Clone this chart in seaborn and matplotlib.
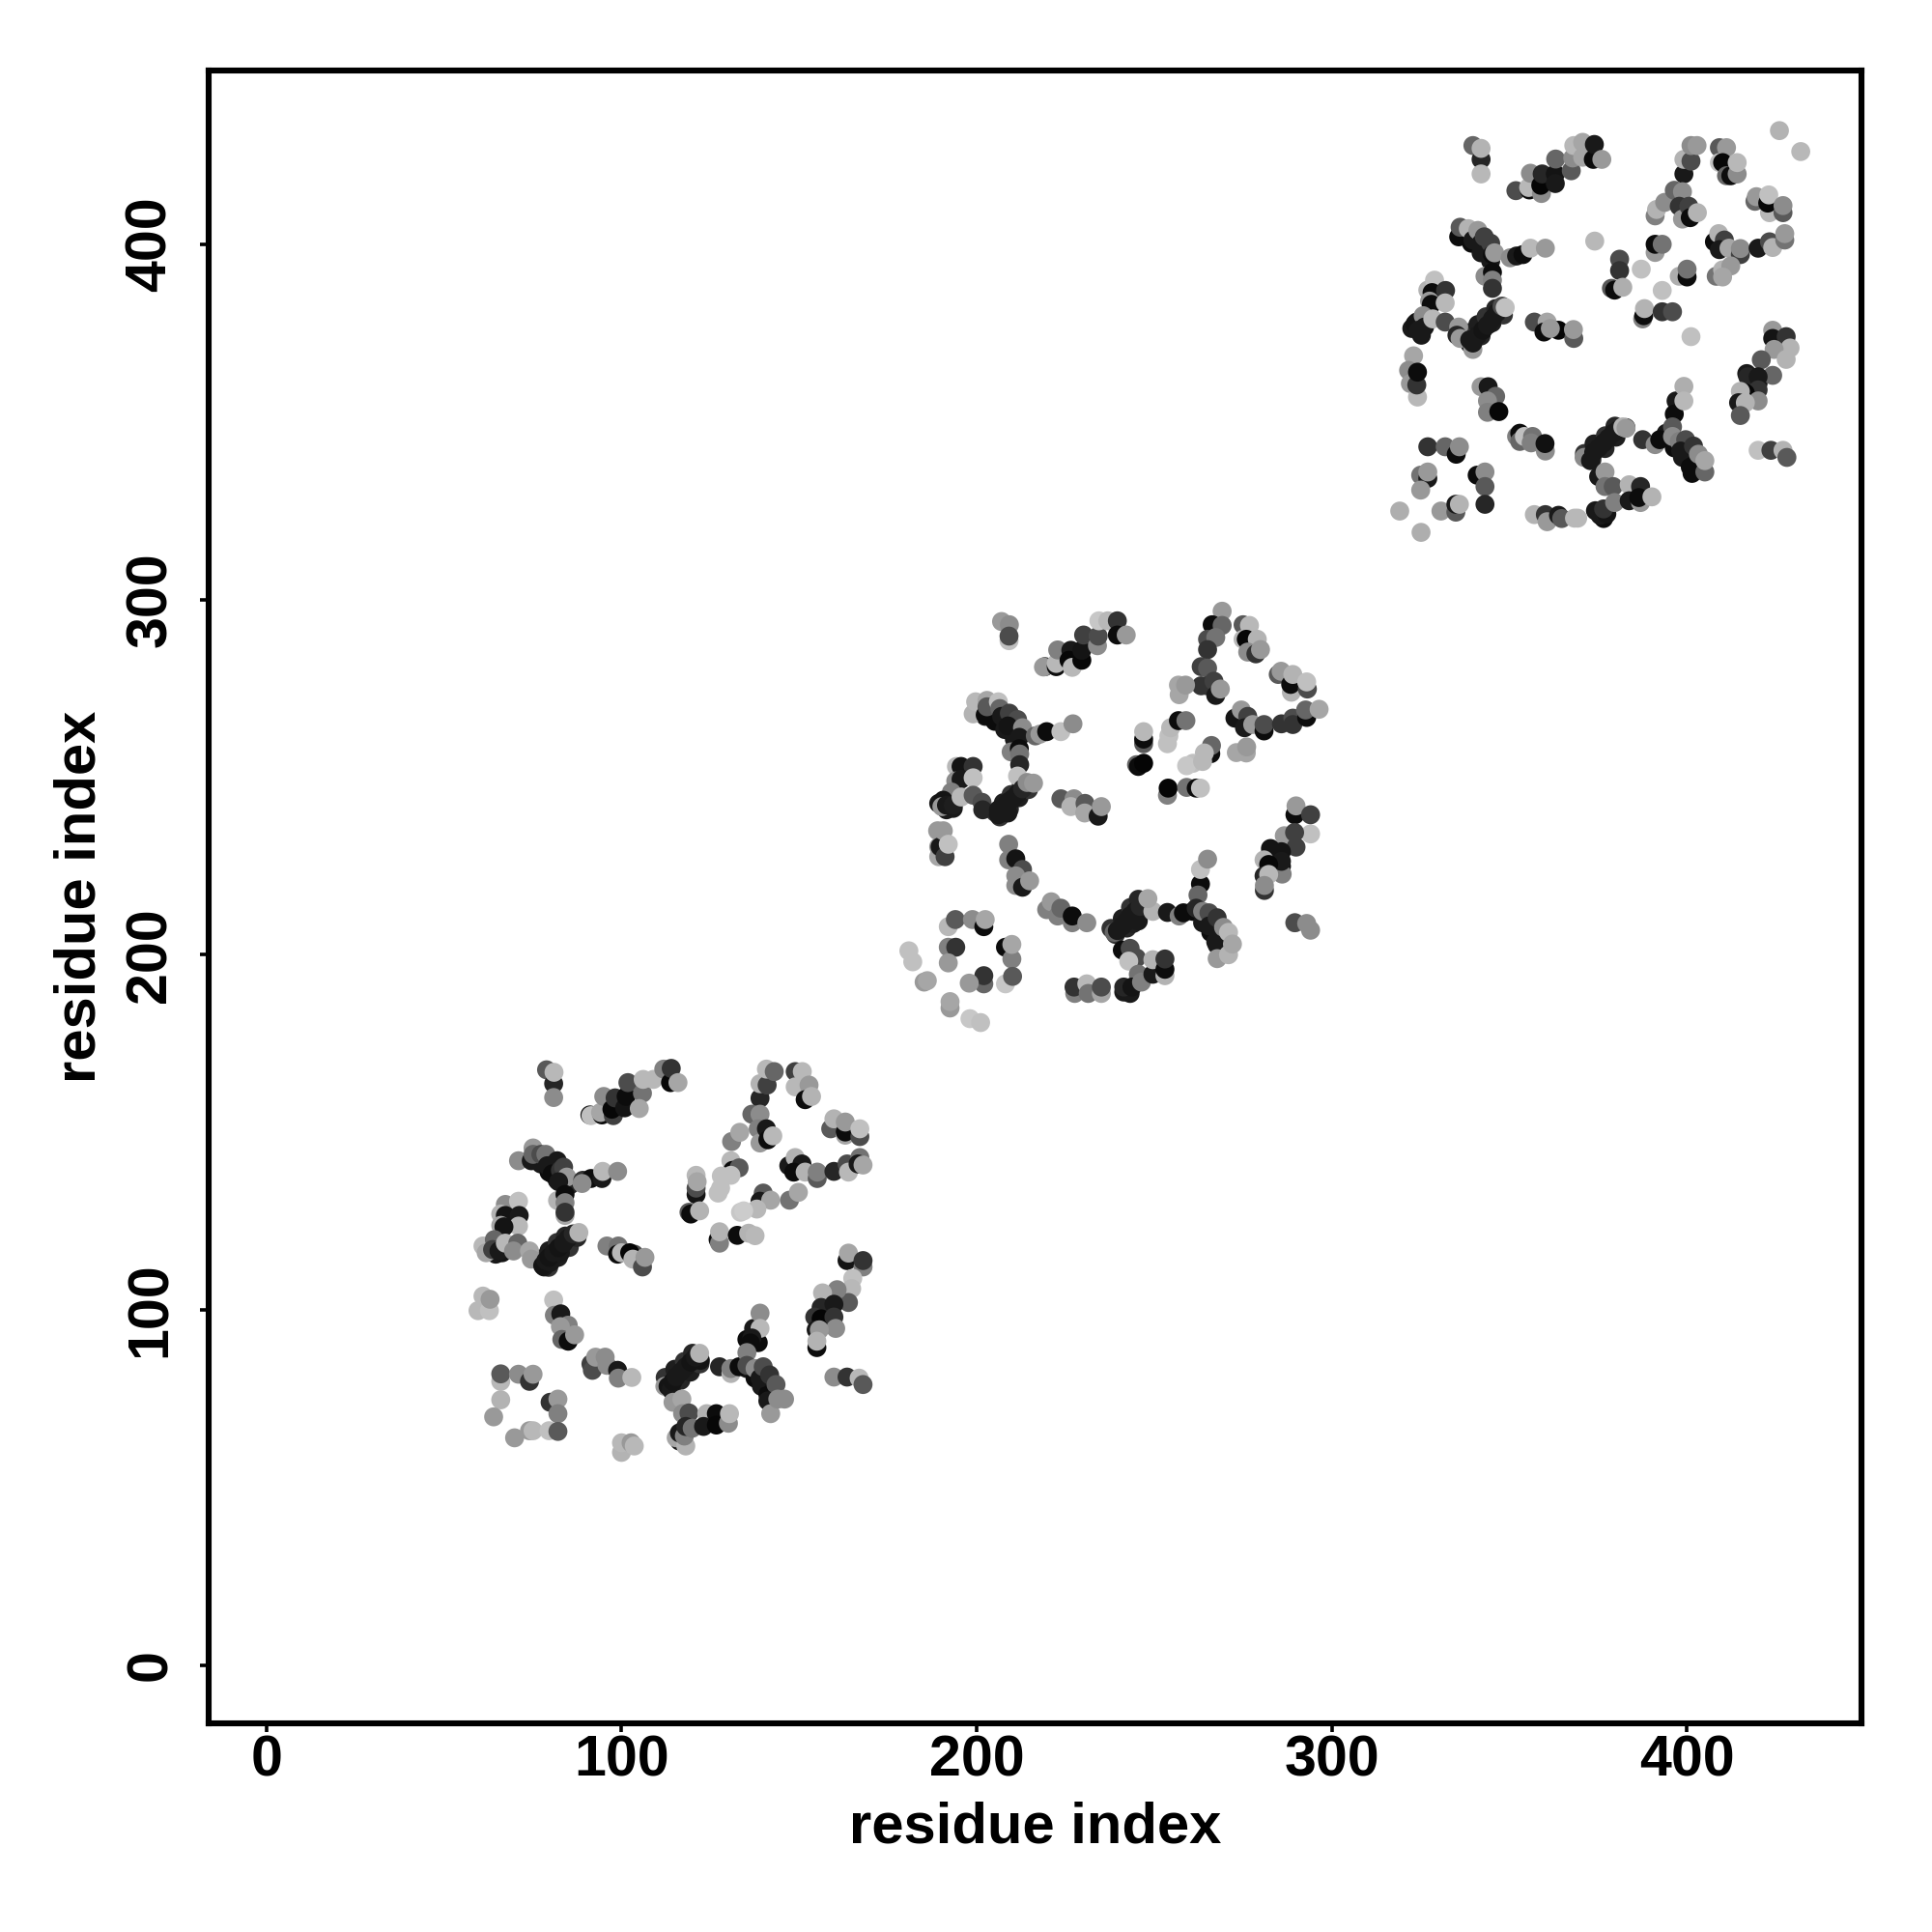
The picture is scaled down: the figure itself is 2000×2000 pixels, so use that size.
import pandas as pd
import matplotlib
matplotlib.use("Agg")
import matplotlib.pyplot as plt
import seaborn as sns

# ---- dense strands, lying beneath the rest ----
x0 = [77.4, 79.6, 81.9, 84.2, 79.5, 82.2, 85.3, 87.5,
      112.3, 115.0, 117.7, 120.0, 114.0, 116.7, 119.4, 122.1,
      77.3, 79.6, 81.9, 85.5, 135.3, 137.6, 139.4, 141.2, 135.3, 138.5,
      63.3, 64.6, 66.4, 157.1, 116.3,
      205.2, 207.5, 209.7, 212.5, 206.5, 209.2, 211.9, 214.6,
      237.8, 241.0, 243.3, 245.5, 239.1, 242.3, 244.1, 246.4,
      202.4, 205.1, 207.9, 210.6, 260.9, 263.6, 265.9, 267.3,
      189.3, 191.5, 193.4, 282.7, 285.8, 241.4, 243.2,
      338.4, 341.1, 343.4, 346.1, 338.8, 342.0, 345.1, 348.3,
      371.1, 373.8, 377.0, 379.7, 373.2, 376.9, 380.0, 382.8,
      336.6, 339.3, 342.0, 344.7, 394.1, 396.4, 398.7, 400.9,
      322.5, 325.2, 323.9, 416.8, 420.0, 374.2, 376.5]
y0 = [114.4, 116.7, 119.0, 120.8, 112.0, 114.8, 117.6, 120.4,
      81.0, 83.3, 85.5, 87.8, 77.5, 80.2, 82.5, 84.8,
      141.1, 138.8, 136.5, 135.2, 83.5, 80.8, 78.5, 76.2, 91.7, 90.8,
      117.0, 115.7, 116.1, 99.8, 63.1,
      240.1, 242.8, 245.1, 247.3, 238.8, 241.0, 244.2, 246.5,
      207.4, 210.2, 213.3, 215.6, 205.7, 207.5, 208.8, 212.5,
      267.1, 265.7, 263.4, 260.7, 212.2, 209.0, 206.3, 203.6,
      242.6, 240.8, 241.2, 228.5, 224.9, 189.5, 189.1,
      375.1, 377.4, 379.6, 381.9, 372.0, 374.2, 377.9, 380.1,
      341.1, 343.8, 346.1, 348.8, 339.3, 342.5, 345.7, 348.4,
      402.6, 400.3, 397.6, 395.3, 346.8, 342.7, 340.0, 337.3,
      376.3, 374.4, 378.1, 363.6, 360.9, 325.0, 322.8]
shade0 = [.2, .12, .2, .15, .2, .12, .2, .15,
          .2, .12, .2, .15, .2, .15, .12, .2,
          .1, .05, .1, .15, .1, .05, .1, .05, .05, .05,
          .1, .1, .08, .1, .1,
          .2, .12, .2, .15, .2, .15, .12, .2,
          .2, .12, .2, .15, .2, .15, .12, .2,
          .1, .05, .1, .1, .05, .1, .05, .1,
          .1, .1, .1, .05, .05, .1, .1,
          .2, .12, .2, .15, .2, .15, .12, .2,
          .2, .12, .2, .15, .2, .15, .12, .2,
          .1, .05, .1, .1, .1, .05, .1, .05,
          .1, .1, .05, .1, .1, .1, .05]

# ---- first domain ----
x1 = [78.9, 80.9, 80.9, 81.0,
      91.1, 91.4, 94.5, 94.1, 95.0, 97.7, 97.3, 98.2, 100.9, 101.3, 101.8, 105.9, 105.0, 106.1, 109.0, 111.9, 113.8, 114.0, 115.9,
      71.0, 74.6, 75.1, 75.1, 77.3, 78.7, 79.1, 81.9, 80.5, 82.8, 83.7, 84.6, 82.3, 89.1, 91.4, 94.5, 88.9, 94.7, 98.9,
      82.0, 84.1, 84.1, 84.1, 84.1,
      67.3, 66.0, 67.3, 71.0, 71.2, 71.0, 66.0, 66.9, 61.0, 61.9, 64.2, 63.7, 65.5, 67.3, 70.8, 69.6, 74.1, 74.6,
      78.2, 77.8, 80.0, 78.7, 79.6, 80.9, 82.8, 82.3, 83.7, 85.0, 86.4, 88.0,
      95.9, 99.1, 98.9, 100.0, 103.6, 102.3, 103.2, 105.9, 106.6,
      61.0, 59.6, 62.8, 63.0,
      80.9, 81.1, 82.9, 85.0, 82.8, 83.2, 85.0, 86.8,
      91.4, 91.8, 92.7, 95.4, 95.9, 98.9, 99.1, 102.9,
      66.0, 66.0, 71.0, 74.1, 75.1, 66.0, 64.0, 79.9, 82.1, 82.1, 69.9, 74.1, 75.1, 79.6, 82.1,
      100.0, 100.0, 102.7, 103.6,
      112.2, 113.1, 114.0, 114.5, 115.4, 116.8, 118.1, 119.5, 122.2, 120.8, 122.0,
      114.5, 117.0, 117.2, 119.0, 115.4, 118.1, 116.3, 117.7, 118.1, 119.9, 124.0, 123.1, 126.7, 126.7, 130.1, 130.4,
      127.6, 130.8, 130.8, 133.1, 137.2, 139.0, 139.0, 136.7, 136.3, 135.3, 135.3, 137.6, 139.0, 139.9, 141.7, 143.5, 141.2, 142.0, 144.0, 145.9,
      163.5, 163.9, 168.0, 168.0, 165.1, 164.8, 163.9, 160.7, 156.6, 156.2, 159.8, 154.4, 156.2, 159.8, 160.3, 154.8, 155.7, 155.0, 155.0,
      159.8, 163.5, 166.9, 168.0,
      139.0, 139.0, 141.0, 140.8, 143.0, 148.9, 150.9, 148.9, 152.8, 151.7, 153.5,
      136.7, 139.0, 131.0, 133.3, 138.5, 139.0, 140.8, 141.2, 142.6,
      158.9, 159.8, 163.0, 163.0, 163.0, 167.1, 167.1,
      147.1, 148.9, 150.8, 148.5, 151.7, 155.1, 155.1, 159.8, 163.5, 163.9, 167.1, 166.6, 168.0,
      130.8, 131.3, 133.1, 128.1, 130.8, 127.2, 127.9,
      139.9, 139.0, 142.0, 138.1, 133.5, 134.4,
      147.3, 149.8,
      121.0, 121.0, 121.0, 121.3, 119.0, 119.5, 122.0,
      127.2, 127.6, 127.6, 132.6, 135.8, 137.6]
y1 = [167.6, 163.7, 159.8, 166.9,
      154.9, 154.7, 154.9, 155.6, 160.1, 154.7, 156.5, 159.7, 156.9, 160.1, 164.0, 161.0, 156.7, 164.9, 164.9, 167.8, 164.0, 168.0, 164.0,
      142.0, 142.0, 145.6, 143.8, 143.8, 143.8, 140.6, 142.0, 138.3, 139.3, 140.2, 137.4, 136.1, 136.5, 137.0, 137.0, 135.6, 139.0, 139.0,
      130.8, 132.5, 130.2, 126.6, 127.5,
      129.7, 127.0, 126.6, 130.6, 126.6, 123.6, 123.8, 123.4, 118.0, 116.1, 119.8, 117.0, 116.6, 118.8, 118.8, 116.6, 116.6, 114.3,
      112.1, 112.5, 113.4, 113.9, 114.8, 116.1, 116.1, 117.5, 118.8, 120.2, 121.4, 121.8,
      118.0, 118.0, 115.7, 116.1, 115.7, 116.1, 114.3, 112.1, 114.8,
      103.9, 99.8, 99.8, 103.0,
      102.8, 98.5, 98.9, 95.7, 95.3, 91.7, 91.2, 93.0,
      84.8, 83.0, 86.7, 86.7, 84.4, 83.0, 80.8, 81.0,
      79.9, 82.0, 81.9, 79.9, 81.9, 74.7, 69.9, 74.0, 74.9, 70.8, 64.0, 66.0, 66.0, 66.0, 65.8,
      59.9, 62.6, 62.6, 61.7,
      78.5, 78.5, 77.6, 79.9, 81.2, 82.6, 84.0, 85.3, 85.8, 86.7, 87.8,
      74.0, 74.9, 70.8, 71.0, 64.0, 61.7, 65.4, 64.5, 67.2, 66.7, 70.8, 67.2, 70.8, 67.6, 68.1, 70.8,
      84.0, 82.1, 83.5, 84.0, 94.8, 99.1, 94.8, 92.1, 90.7, 88.0, 84.4, 83.5, 80.8, 84.0, 81.7, 79.0, 74.4, 70.8, 74.9, 74.9,
      113.9, 116.0, 112.1, 113.9, 108.9, 106.0, 102.1, 105.7, 104.8, 100.7, 101.6, 98.0, 97.5, 98.0, 94.8, 94.4, 94.4, 89.4, 91.2,
      81.1, 81.1, 80.8, 79.0,
      159.6, 163.7, 163.3, 167.8, 167.1, 167.1, 167.1, 162.8, 163.3, 159.2, 160.1,
      155.1, 155.1, 147.4, 150.0, 151.0, 147.0, 151.0, 147.9, 149.0,
      151.0, 153.8, 149.2, 150.1, 152.9, 148.8, 151.0,
      140.6, 142.9, 141.1, 138.8, 138.8, 137.0, 138.8, 139.0, 141.1, 138.8, 142.9, 141.1, 140.8,
      142.0, 139.3, 140.0, 137.7, 137.9, 132.9, 134.3,
      132.9, 130.6, 130.9, 128.4, 127.5, 127.9,
      130.9, 133.1,
      132.5, 134.3, 137.9, 136.1, 127.5, 127.0, 127.9,
      119.8, 118.8, 122.0, 121.0, 121.6, 120.9]
shade1 = [.35, .15, .55, .72,
          .1, .75, .05, .65, .55, .25, .03, .2, .08, .05, .3, .45, .65, .72, .72, .5, .03, .2, .65,
          .55, .1, .6, .4, .3, .45, .1, .1, .05, .2, .25, .6, .1, .2, .05, .1, .55, .72, .55,
          .7, .05, .5, .65, .2,
          .55, .7, .08, .75, .1, .72, .65, .08, .72, .65, .4, .25, .1, .72, .4, .55, .65, .6,
          .1, .08, .1, .1, .08, .1, .1, .08, .1, .1, .15, .7,
          .5, .45, .05, .72, .3, .02, .7, .3, .6,
          .72, .72, .75, .6,
          .75, .5, .1, .5, .6, .4, .05, .6,
          .25, .3, .6, .55, .55, .1, .5, .72,
          .72, .35, .55, .2, .6, .7, .6, .2, .6, .5, .6, .6, .72, .75, .35,
          .7, .72, .6, .72,
          .6, .08, .1, .08, .1, .1, .1, .08, .08, .1, .7,
          .6, .65, .55, .3, .65, .7, .1, .5, .15, .45, .7, .1, .05, .03, .55, .72,
          .15, .7, .5, .05, .1, .55, .72, .1, .05, .5, .3, .55, .1, .3, .2, .35, .1, .6, .55, .55,
          .08, .65, .5, .2, .75, .72, .35, .5, .7, .15, .1, .2, .02, .2, .55, .1, .6, .05, .7,
          .55, .2, .72, .35,
          .15, .7, .25, .72, .4, .25, .72, .72, .6, .05, .7,
          .4, .55, .5, .65, .5, .6, .1, .05, .72,
          .35, .7, .65, .05, .6, .3, .75,
          .1, .7, .1, .05, .7, .35, .5, .15, .3, .72, .45, .1, .65,
          .72, .05, .35, .75, .75, .75, .75,
          .35, .1, .65, .72, .78, .8,
          .45, .65,
          .08, .3, .72, .65, .35, .05, .7,
          .05, .5, .7, .05, .7, .72]

# ---- second domain ----
x2 = [207.0, 209.2, 209.1, 209.1,
      219.2, 218.8, 222.4, 222.4, 222.8, 226.5, 226.0, 226.9, 229.6, 229.6, 230.1, 234.0, 234.2, 234.4, 236.9, 239.6, 239.6, 242.1,
      199.0, 199.7, 202.4, 202.9, 202.9, 206.1, 206.5, 207.0, 209.2, 211.5, 208.8, 212.9, 212.0, 216.5, 217.8, 219.7, 223.7, 227.1,
      209.7, 212.0, 212.1, 212.1, 211.5,
      194.3, 195.6, 199.0, 194.1, 195.6, 199.0, 192.9, 190.6, 190.2, 191.5, 193.4, 195.6, 199.0, 201.5, 201.7,
      206.1, 206.1, 208.8, 207.4, 208.8, 210.1, 211.5, 212.9, 214.2, 216.0,
      223.7, 227.4, 226.5, 230.5, 230.4, 234.2, 235.1,
      189.0, 189.3, 189.3, 189.7, 190.6, 191.1, 192.0,
      209.0, 209.0, 211.0, 212.9, 211.0, 211.0, 212.9, 214.9,
      219.7, 221.0, 222.8, 223.7, 226.9, 226.9, 231.0,
      192.0, 194.0, 198.8, 202.0, 202.4, 192.0, 194.1, 192.0, 208.1, 209.9, 209.9, 208.1, 210.1, 202.0, 202.0, 197.9,
      180.9, 182.0, 185.2, 186.1, 192.5, 192.5, 198.1, 201.1,
      227.6, 227.4, 231.0, 231.4, 235.1, 235.1,
      238.7, 239.6, 241.0, 242.3, 245.5, 243.2, 244.6, 246.0, 249.6, 248.2,
      241.0, 243.2, 245.0, 242.8, 245.5, 241.4, 243.7, 246.4, 249.6, 249.6, 253.0, 253.0, 253.0,
      253.7, 257.0, 258.2, 263.0, 263.0, 265.0, 262.3, 261.8, 263.6, 265.4, 265.4, 267.7, 269.5, 267.7, 267.7, 270.9, 270.9, 272.0,
      289.6, 289.9, 294.0, 294.0, 286.6, 289.9, 289.5, 282.7, 285.8, 286.0, 285.8, 280.9, 282.2, 280.9, 282.2, 281.0, 281.0,
      289.5, 289.6, 292.9, 294.0,
      269.1, 266.3, 269.1, 265.0, 267.3, 265.0,
      275.0, 276.8, 275.0, 275.9, 279.0, 276.3, 278.6, 279.9,
      263.2, 265.0, 263.2, 265.0, 266.8, 267.3, 268.6, 257.0, 256.8, 258.8,
      284.9, 285.7, 288.6, 288.4, 289.0, 293.1, 292.9,
      272.7, 274.5, 276.3, 275.4, 277.7, 280.9, 280.9, 285.8, 289.0, 289.0, 292.9, 292.6, 296.4,
      253.7, 254.1, 254.6, 256.8, 258.9,
      265.9, 266.1, 264.1, 260.9, 259.1, 263.6,
      273.1, 275.9, 276.0,
      247.0, 247.0, 247.0, 245.0, 245.5, 247.0,
      253.7, 253.9, 259.1, 261.8, 263.0]
y2 = [293.8, 292.9, 288.4, 289.7,
      281.1, 281.0, 281.1, 282.0, 285.8, 285.7, 282.9, 280.9, 282.9, 285.7, 290.0, 287.0, 289.7, 294.0, 294.0, 294.0, 290.0, 290.0,
      267.8, 271.2, 267.5, 271.6, 269.8, 271.2, 269.3, 267.1, 268.0, 266.2, 264.4, 263.9, 261.2, 261.6, 262.1, 262.8, 262.8, 265.0,
      257.1, 258.0, 256.5, 253.5, 250.3,
      253.0, 253.0, 253.0, 248.9, 249.4, 249.8, 245.8, 243.5, 241.7, 242.1, 242.1, 244.4, 244.9, 242.9, 240.8,
      239.4, 240.8, 239.9, 241.2, 243.0, 243.9, 245.3, 246.7, 248.5, 248.3,
      243.9, 243.9, 241.7, 242.6, 239.9, 239.0, 241.7,
      234.9, 227.6, 230.4, 230.4, 234.9, 227.6, 231.1,
      231.1, 226.7, 227.0, 224.0, 222.2, 219.5, 219.0, 220.8,
      212.7, 214.9, 210.9, 213.1, 209.0, 210.9, 209.0,
      207.9, 209.9, 209.9, 207.9, 209.9, 202.1, 202.1, 197.7, 202.1, 198.8, 202.9, 191.8, 193.9, 191.8, 194.1, 192.0,
      201.1, 198.0, 192.3, 192.7, 185.0, 186.8, 182.0, 180.9,
      189.1, 190.9, 191.8, 189.1, 189.1, 190.9,
      206.3, 206.8, 208.1, 209.5, 209.5, 210.9, 212.2, 213.6, 212.2, 215.8,
      201.3, 201.8, 199.1, 198.2, 194.5, 190.9, 190.9, 192.3, 194.5, 198.6, 194.1, 195.9, 198.8,
      211.9, 210.9, 211.8, 219.9, 224.0, 226.9, 216.8, 213.1, 212.2, 211.8, 208.1, 210.4, 207.7, 202.7, 198.9, 200.0, 206.3, 203.0,
      239.4, 241.9, 234.0, 239.4, 233.5, 230.3, 234.4, 229.9, 229.0, 222.7, 226.3, 226.7, 225.4, 222.2, 222.6, 218.1, 219.5,
      209.0, 209.0, 208.8, 206.9,
      296.7, 292.9, 292.7, 288.8, 289.3, 285.9,
      292.9, 292.7, 288.8, 288.8, 288.8, 285.2, 284.7, 285.9,
      281.1, 280.7, 275.7, 275.7, 277.0, 273.0, 274.8, 273.2, 275.9, 275.9,
      278.9, 279.8, 273.9, 276.1, 278.9, 274.8, 276.8,
      266.6, 268.9, 267.1, 263.9, 264.8, 263.0, 264.8, 265.0, 266.6, 264.8, 266.8, 268.9, 269.1,
      259.4, 261.6, 263.9, 265.9, 265.9,
      256.6, 258.9, 256.8, 253.9, 253.2, 254.4,
      256.9, 256.8, 258.5,
      259.4, 260.7, 262.8, 253.5, 253.0, 253.9,
      244.9, 246.9, 247.1, 246.9, 246.9]
shade2 = [.6, .55, .75, .3,
          .15, .6, .05, .72, .5, .1, .03, .72, .03, .08, .25, .55, .3, .78, .72, .2, .05, .6,
          .7, .72, .05, .65, .35, .75, .4, .1, .25, .3, .08, .55, .1, .4, .6, .05, .75, .55,
          .5, .05, .45, .15, .75,
          .72, .08, .2, .55, .1, .75, .5, .08, .6, .1, .12, .72, .35, .3, .15,
          .1, .1, .1, .1, .1, .1, .1, .15, .55, .6,
          .35, .55, .7, .35, .65, .1, .6,
          .6, .65, .6, .1, .6, .25, .75,
          .5, .5, .08, .3, .55, .55, .1, .6,
          .5, .6, .5, .4, .5, .05, .55,
          .72, .35, .55, .05, .65, .5, .2, .6, .05, .5, .65, .78, .35, .4, .2, .6,
          .75, .75, .6, .65, .6, .65, .78, .75,
          .5, .2, .72, .45, .65, .3,
          .4, .1, .1, .1, .1, .1, .1, .15, .7, .65,
          .05, .3, .3, .75, .45, .15, .08, .5, .1, .7, .7, .05, .2,
          .1, .5, .05, .05, .75, .55, .4, .15, .5, .3, .1, .2, .55, .1, .6, .7, .72, .65,
          .05, .6, .75, .25, .6, .25, .25, .08, .08, .5, .1, .7, .03, .15, .72, .2, .55,
          .75, .3, .55, .55,
          .6, .05, .4, .3, .45, .2,
          .35, .72, .72, .03, .7, .55, .2, .6,
          .25, .35, .2, .2, .25, .1, .6, .65, .65, .6,
          .35, .6, .7, .05, .7, .3, .75,
          .08, .6, .25, .1, .6, .05, .3, .2, .3, .2, .05, .4, .65,
          .75, .75, .72, .05, .45,
          .05, .4, .72, .75, .78, .72,
          .65, .65, .6,
          .35, .05, .72, .4, .05, .02,
          .5, .02, .45, .05, .75]

# ---- third domain ----
x3 = [339.7, 342.0, 342.0, 342.0,
      351.8, 355.6, 355.4, 355.9, 359.0, 358.8, 359.2, 362.9, 362.9, 363.0, 367.4, 367.8, 368.1, 370.6, 370.6, 373.6, 373.9, 376.0,
      335.7, 336.1, 338.4, 339.7, 341.1, 342.0, 342.9, 344.7, 345.2, 345.8, 350.2, 352.0, 353.8, 355.9, 360.1,
      343.1, 345.2, 345.2, 345.2,
      327.0, 328.9, 328.2, 332.0, 327.5, 328.0, 331.9, 323.4, 325.7, 324.3, 326.1, 328.4, 331.9, 335.7, 335.2, 336.1,
      339.7, 338.8, 339.7, 341.1, 342.5, 343.8, 345.2, 346.5, 347.9, 348.8,
      357.0, 360.6, 359.7, 363.8, 361.5, 368.1, 368.0,
      323.0, 321.6, 322.1, 324.1, 323.9, 324.1,
      342.0, 344.0, 346.1, 343.8, 343.8, 347.0,
      352.0, 352.9, 352.9, 354.2, 356.5, 356.1, 360.1, 360.0,
      327.0, 331.9, 335.0, 335.9, 325.0, 327.0, 327.0, 325.0, 340.9, 343.1, 343.1, 343.1, 330.7, 334.9, 334.9, 335.9, 319.1, 325.1,
      357.0, 360.1, 360.6, 363.8, 364.7, 368.3, 369.2,
      371.0, 372.8, 373.7, 375.1, 376.5, 377.8, 379.2, 380.5, 381.9, 382.8,
      375.1, 376.9, 376.9, 379.2, 383.7, 375.5, 377.4, 376.5, 379.6, 383.7, 386.9, 386.9, 386.4, 390.1,
      387.5, 391.0, 392.3, 396.9, 396.4, 399.1, 399.1, 395.9, 395.9, 397.8, 399.6, 398.2, 401.8, 401.4, 403.2, 405.0, 405.0,
      424.1, 424.1, 427.9, 429.0, 424.5, 427.9, 420.9, 424.1, 417.1, 420.0, 420.0, 416.4, 415.0, 420.0, 414.5, 416.4, 415.0,
      420.0, 423.6, 427.0, 428.1,
      426.0, 432.0, 374.0, 387.1, 393.0, 401.1,
      399.1, 399.1, 401.1, 401.1, 402.8, 409.1, 411.1, 409.1, 410.0, 411.1, 412.3, 414.1, 414.1,
      391.0, 391.4, 393.7, 396.4, 398.7, 397.8, 398.7, 400.5, 400.9, 402.9,
      419.1, 419.5, 423.2, 422.7, 423.0, 427.0, 427.0,
      407.7, 408.9, 410.5, 409.1, 411.8, 415.0, 415.0, 420.0, 423.2, 424.1, 427.5, 427.5,
      391.0, 391.0, 393.0,
      408.2, 410.0, 412.3, 410.0,
      397.8, 400.0, 400.0,
      381.0, 381.0,
      378.7, 379.6, 381.9,
      387.5, 387.8, 388.0, 393.0, 395.9]
y3 = [427.8, 423.9, 419.8, 427.0,
      415.1, 415.3, 416.0, 420.0, 414.3, 416.6, 419.8, 419.8, 417.1, 424.0, 420.7, 424.3, 427.8, 428.7, 424.5, 423.9, 428.1, 423.9,
      402.1, 404.8, 404.4, 401.2, 403.9, 400.3, 402.1, 400.3, 397.1, 397.6, 396.2, 396.7, 397.1, 398.9, 398.9,
      391.0, 392.1, 389.9, 387.6,
      387.1, 389.9, 386.4, 387.0, 384.0, 383.1, 383.5, 377.6, 379.9, 375.8, 376.7, 379.0, 378.1, 376.7, 374.4, 373.5,
      370.4, 373.1, 372.2, 374.4, 375.8, 377.2, 379.0, 380.8, 382.6, 382.2,
      378.1, 378.1, 375.3, 375.8, 376.3, 373.5, 376.0,
      368.6, 364.5, 360.8, 357.0, 360.4, 364.0,
      359.9, 359.9, 357.2, 355.9, 352.7, 352.9,
      345.9, 346.8, 344.5, 345.9, 345.9, 344.1, 341.8, 343.9,
      343.0, 343.0, 340.9, 343.0, 335.0, 334.1, 335.9, 330.8, 335.0, 335.9, 331.8, 326.8, 324.9, 324.6, 326.8, 326.8, 324.9, 318.9,
      323.9, 323.9, 321.9, 323.7, 322.8, 322.9, 322.9,
      340.0, 339.1, 341.4, 342.7, 344.1, 345.4, 346.8, 347.7, 348.6, 348.2,
      334.6, 335.9, 331.8, 331.8, 332.3, 323.7, 324.1, 325.5, 327.3, 327.8, 327.3, 331.8, 328.7, 328.9,
      345.0, 343.6, 345.0, 355.9, 352.2, 360.0, 355.9, 348.6, 345.9, 344.5, 345.0, 341.8, 343.2, 335.5, 340.9, 335.9, 339.1,
      375.8, 373.5, 374.0, 370.8, 370.4, 367.6, 367.5, 363.1, 362.7, 362.7, 359.0, 358.1, 358.6, 355.9, 355.4, 355.4, 351.8,
      342.0, 342.0, 342.0, 340.0,
      432.0, 426.1, 400.9, 393.0, 387.0, 374.0,
      419.8, 423.9, 423.4, 427.8, 427.8, 427.2, 427.2, 423.0, 423.0, 419.3, 419.3, 419.8, 423.0,
      408.0, 409.8, 411.8, 415.2, 414.8, 410.7, 407.1, 410.7, 407.5, 408.9,
      412.1, 413.4, 408.9, 411.6, 413.9, 408.9, 410.9,
      400.7, 403.0, 401.2, 398.5, 398.9, 397.1, 398.8, 398.9, 400.7, 399.1, 401.2, 403.0,
      397.7, 400.0, 400.0,
      391.0, 392.8, 393.9, 390.8,
      391.0, 390.8, 393.0,
      395.8, 392.6,
      387.6, 387.1, 387.9,
      379.0, 379.9, 381.9, 381.0, 381.0]
shade3 = [.4, .15, .72, .7,
          .3, .05, .72, .55, .55, .02, .15, .08, .1, .4, .35, .55, .72, .65, .65, .05, .1, .6,
          .05, .35, .7, .1, .6, .1, .25, .25, .05, .6, .55, .1, .05, .72, .6,
          .55, .05, .5, .2,
          .7, .75, .05, .2, .6, .05, .72, .08, .55, .1, .1, .72, .3, .6, .15, .6,
          .6, .1, .1, .1, .08, .1, .1, .1, .3, .75,
          .3, .65, .05, .02, .6, .35, .6,
          .65, .55, .6, .72, .2, .05,
          .6, .1, .4, .55, .5, .03,
          .5, .05, .4, .75, .45, .5, .55, .07,
          .2, .4, .05, .55, .45, .1, .6, .6, .05, .55, .35, .15, .6, .35, .1, .7, .68, .68,
          .7, .2, .6, .1, .35, .72, .72,
          .55, .1, .1, .1, .1, .1, .1, .1, .7, .6,
          .1, .6, .45, .35, .7, .1, .08, .2, .5, .1, .6, .15, .05, .7,
          .2, .55, .05, .1, .05, .68, .72, .35, .55, .5, .3, .1, .2, .05, .55, .4, .65,
          .6, .08, .2, .7, .6, .7, .35, .4, .15, .1, .2, .03, .7, .55, .1, .7, .35,
          .75, .25, .7, .35,
          .7, .72, .72, .75, .75, .75,
          .1, .7, .3, .55, .6, .35, .6, .75, .03, .4, .05, .55, .72,
          .5, .7, .55, .4, .55, .2, .6, .25, .05, .7,
          .4, .6, .72, .03, .75, .35, .55,
          .05, .7, .25, .1, .65, .25, .55, .1, .3, .7, .45, .6,
          .6, .05, .45,
          .45, .7, .6, .65,
          .68, .05, .45,
          .3, .2,
          .35, .05, .68,
          .5, .05, .7, .2, .3]

tick_values = [0, 100, 200, 300, 400]
axis_title = "residue index"

sns.set_theme(style="white")
plt.rcParams["font.family"] = ["Liberation Sans", "DejaVu Sans"]
plt.rcParams["font.weight"] = "bold"

fig = plt.figure(figsize=(10, 10), dpi=200)
ax = fig.add_axes([216.3 / 2000, 1 - 1783.7 / 2000, (1927 - 216.3) / 2000, (1783.7 - 72.7) / 2000])

for xs, ys, gs in [(x0, y0, shade0), (x1, y1, shade1), (x2, y2, shade2), (x3, y3, shade3)]:
    frame = pd.DataFrame({"i": xs, "j": ys, "shade": gs})
    sns.scatterplot(data=frame, x="i", y="j", hue="shade", palette="gray",
                    hue_norm=(0, 1), s=50, linewidth=0, legend=False, ax=ax, zorder=3)

ax.set_xlim(-16.15, 449.1)
ax.set_ylim(-16.3, 449.0)
ax.set_xticks(tick_values)
ax.set_yticks(tick_values)
ax.tick_params(axis="both", length=3.2, width=1.3, color="black", direction="out", left=True, bottom=True)
ax.tick_params(axis="x", labelsize=21.3, pad=1.2, labelcolor="black")
ax.tick_params(axis="y", labelsize=21.3, pad=8.5, labelcolor="black")
for lab in ax.get_yticklabels():
    lab.set_rotation(90)
    lab.set_va("center")
for side in ax.spines.values():
    side.set_linewidth(2.2)
    side.set_color("black")
ax.set_xlabel(axis_title, fontsize=21.5, fontweight="bold", color="black", labelpad=5)
ax.set_ylabel(axis_title, fontsize=21.5, fontweight="bold", color="black", labelpad=6.5)
fig.savefig("out.png", dpi=200, facecolor="white")
